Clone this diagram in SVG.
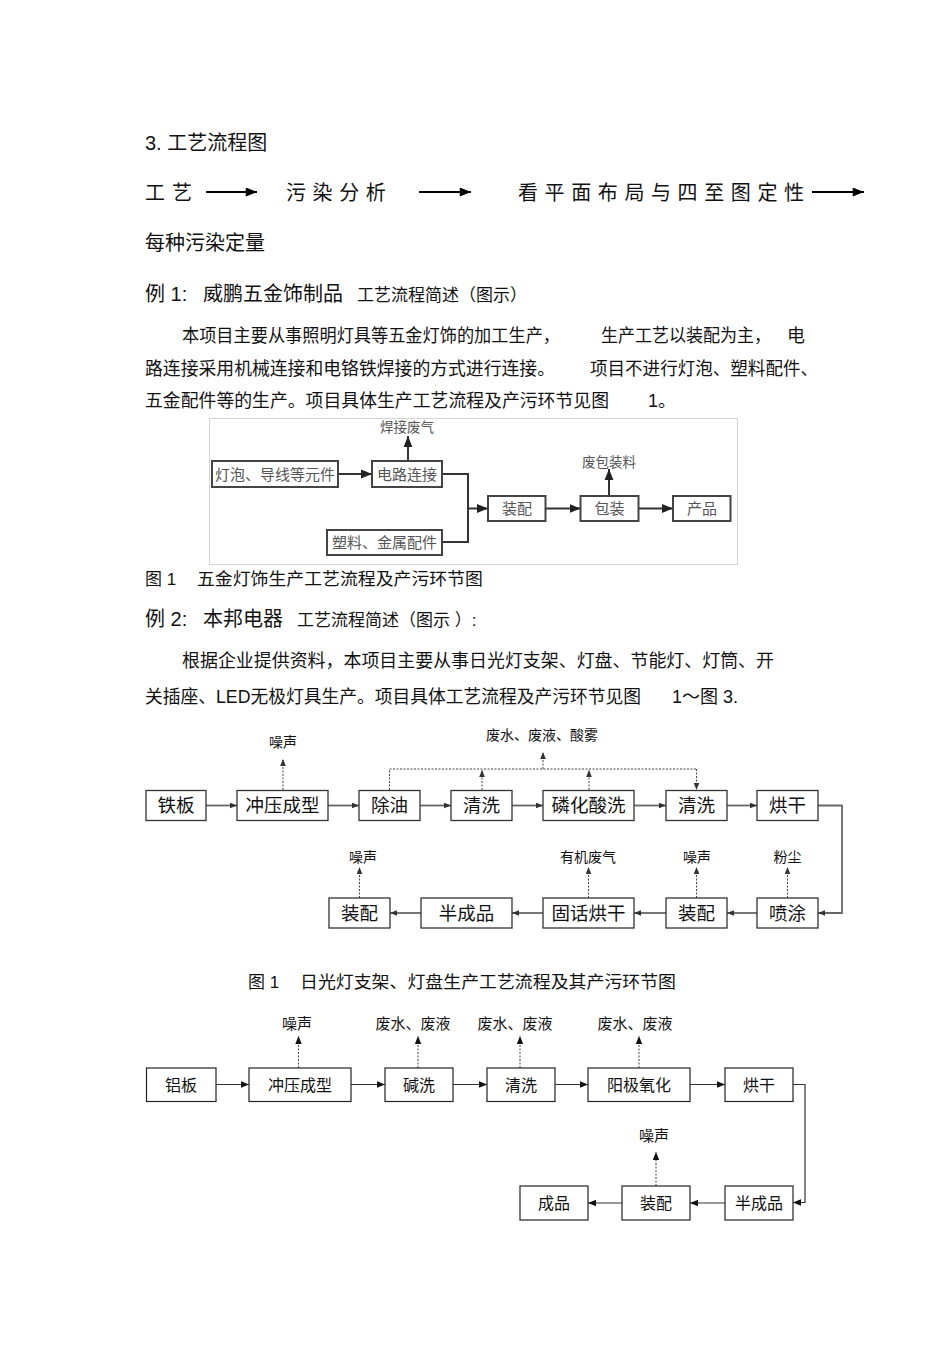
<svg xmlns="http://www.w3.org/2000/svg" width="950" height="1345" viewBox="0 0 950 1345">
<defs>
<marker id="ahHead" viewBox="0 0 10 8" refX="10" refY="4" markerWidth="12" markerHeight="9" markerUnits="userSpaceOnUse" orient="auto"><path d="M0,0 L10,4 L0,8 z" fill="#000"/></marker>
<marker id="ahBold" viewBox="0 0 10 8" refX="10" refY="4" markerWidth="11" markerHeight="10" markerUnits="userSpaceOnUse" orient="auto"><path d="M0,0 L10,4 L0,8 z" fill="#222"/></marker>
<marker id="ahGray" viewBox="0 0 10 8" refX="10" refY="4" markerWidth="7" markerHeight="6" markerUnits="userSpaceOnUse" orient="auto"><path d="M0,0 L10,4 L0,8 z" fill="#333"/></marker>
<marker id="ahDark" viewBox="0 0 10 8" refX="10" refY="4" markerWidth="8" markerHeight="7" markerUnits="userSpaceOnUse" orient="auto"><path d="M0,0 L10,4 L0,8 z" fill="#111"/></marker>
</defs>
<style>
text{font-family:"Liberation Sans","Noto Sans CJK SC",sans-serif;fill:#111}
.h{font-size:20px}
.p{font-size:18px}
.s{font-size:17px}
.f1{font-size:15px;fill:#555;text-anchor:middle}
.f1l{font-size:13.5px;fill:#555;text-anchor:middle}
.f2{font-size:18.5px;text-anchor:middle;font-family:"Noto Sans CJK SC",sans-serif}
.f2l{font-size:14px;text-anchor:middle;font-family:"Noto Sans CJK SC",sans-serif}
.f3{font-size:16px;text-anchor:middle;font-family:"Noto Sans CJK SC",sans-serif}
.f3l{font-size:15px;text-anchor:middle;font-family:"Noto Sans CJK SC",sans-serif}
.b1{fill:#fff;stroke:#444;stroke-width:2}
.b2{fill:#fff;stroke:#333;stroke-width:1.3}
.b3{fill:#fff;stroke:#222;stroke-width:1.2}
.c1{fill:none;stroke:#333;stroke-width:2}
.c2{fill:none;stroke:#666;stroke-width:1.8}
.c3{fill:none;stroke:#333;stroke-width:1.2}
.d{fill:none;stroke:#444;stroke-width:1;stroke-dasharray:2,1.5}
</style>

<g id="header">
<text class="h" x="145" y="150">3.  工艺流程图</text>
<text class="h" x="145" y="200">工</text>
<text class="h" x="172" y="200">艺</text>
<text class="h" x="286" y="200" letter-spacing="6.6">污染分析</text>
<text class="h" x="518" y="200" letter-spacing="6.6">看平面布局与四至图定性</text>
<line x1="206" y1="192" x2="257" y2="192" stroke="#000" stroke-width="1.8" marker-end="url(#ahHead)"/>
<line x1="419" y1="192" x2="471" y2="192" stroke="#000" stroke-width="1.8" marker-end="url(#ahHead)"/>
<line x1="812" y1="192" x2="864" y2="192" stroke="#000" stroke-width="1.8" marker-end="url(#ahHead)"/>
<text class="h" x="145" y="250">每种污染定量</text>
</g>

<g id="example1-text">
<text class="h" x="145" y="301">例 1:</text>
<text class="h" x="203" y="301">威鹏五金饰制品</text>
<text class="s" x="357" y="301">工艺流程简述（图示）</text>
<text class="p" x="182" y="342" textLength="378" lengthAdjust="spacingAndGlyphs">本项目主要从事照明灯具等五金灯饰的加工生产，</text>
<text class="p" x="601" y="342" textLength="170" lengthAdjust="spacingAndGlyphs">生产工艺以装配为主，</text>
<text class="p" x="787" y="342">电</text>
<text class="p" x="145" y="375" textLength="410" lengthAdjust="spacingAndGlyphs">路连接采用机械连接和电铬铁焊接的方式进行连接。</text>
<text class="p" x="590" y="375" textLength="228" lengthAdjust="spacingAndGlyphs">项目不进行灯泡、塑料配件、</text>
<text class="p" x="145" y="407" textLength="464" lengthAdjust="spacingAndGlyphs">五金配件等的生产。项目具体生产工艺流程及产污环节见图</text>
<text class="p" x="648" y="407">1。</text>
</g>

<g id="figure1">
<rect x="209.5" y="418.5" width="528" height="146" fill="#fff" stroke="#d4d4d4" stroke-width="1"/>
<g id="connectors1">
<line class="c1" x1="338" y1="474" x2="372" y2="474" marker-end="url(#ahBold)"/>
<path class="c1" d="M442,474 H468 V542 H442"/>
<line class="c1" x1="468" y1="508.5" x2="488" y2="508.5" marker-end="url(#ahBold)"/>
<line class="c1" x1="545.5" y1="508.5" x2="580.5" y2="508.5" marker-end="url(#ahBold)"/>
<line class="c1" x1="638.5" y1="508.5" x2="673" y2="508.5" marker-end="url(#ahBold)"/>
<line class="c1" x1="408" y1="461" x2="408" y2="436" marker-end="url(#ahBold)"/>
<line class="c1" x1="609" y1="496" x2="609" y2="469" marker-end="url(#ahBold)"/>
</g>
<g id="n1-parts"><rect class="b1" x="212" y="461" width="126" height="26"/><text class="f1" x="275" y="479.5">灯泡、导线等元件</text></g>
<g id="n1-circuit"><rect class="b1" x="372" y="461" width="70" height="26"/><text class="f1" x="407" y="479.5">电路连接</text></g>
<g id="n1-plastic"><rect class="b1" x="327" y="530" width="115" height="25"/><text class="f1" x="384.5" y="548">塑料、金属配件</text></g>
<g id="n1-assemble"><rect class="b1" x="488" y="496" width="57.5" height="25"/><text class="f1" x="517" y="514">装配</text></g>
<g id="n1-pack"><rect class="b1" x="580.5" y="496" width="58" height="25"/><text class="f1" x="609.5" y="514">包装</text></g>
<g id="n1-product"><rect class="b1" x="673" y="496" width="57.5" height="25"/><text class="f1" x="702" y="514">产品</text></g>
<g id="l1-weld"><text class="f1l" x="407" y="432">焊接废气</text></g>
<g id="l1-waste"><text class="f1l" x="609" y="467">废包装料</text></g>
</g>

<g id="example2-text">
<text class="s" x="145" y="584.5">图 1</text>
<text class="s" x="197" y="584.5" textLength="286" lengthAdjust="spacingAndGlyphs">五金灯饰生产工艺流程及产污环节图</text>
<text class="h" x="145" y="625.5">例 2:</text>
<text class="h" x="203" y="625.5">本邦电器</text>
<text class="s" x="297" y="625.5">工艺流程简述（图示 ）:</text>
<text class="p" x="182" y="666.5" textLength="592" lengthAdjust="spacingAndGlyphs">根据企业提供资料，本项目主要从事日光灯支架、灯盘、节能灯、灯筒、开</text>
<text class="p" x="145" y="703" textLength="496" lengthAdjust="spacingAndGlyphs">关插座、LED无极灯具生产。项目具体工艺流程及产污环节见图</text>
<text class="p" x="672" y="703">1～图 3.</text>
</g>

<g id="figure2">
<g id="connectors2">
<line class="c2" x1="206" y1="805.5" x2="237" y2="805.5" marker-end="url(#ahGray)"/>
<line class="c2" x1="328" y1="805.5" x2="359" y2="805.5" marker-end="url(#ahGray)"/>
<line class="c2" x1="420" y1="805.5" x2="451" y2="805.5" marker-end="url(#ahGray)"/>
<line class="c2" x1="512" y1="805.5" x2="543" y2="805.5" marker-end="url(#ahGray)"/>
<line class="c2" x1="634" y1="805.5" x2="666" y2="805.5" marker-end="url(#ahGray)"/>
<line class="c2" x1="727" y1="805.5" x2="757" y2="805.5" marker-end="url(#ahGray)"/>
<path class="c2" d="M818,805.5 H842 V913 H818" marker-end="url(#ahGray)"/>
<line class="c2" x1="757" y1="913" x2="727" y2="913" marker-end="url(#ahGray)"/>
<line class="c2" x1="666" y1="913" x2="634" y2="913" marker-end="url(#ahGray)"/>
<line class="c2" x1="543" y1="913" x2="512" y2="913" marker-end="url(#ahGray)"/>
<line class="c2" x1="421" y1="913" x2="390" y2="913" marker-end="url(#ahGray)"/>
<line class="d" x1="283" y1="790" x2="283" y2="759" marker-end="url(#ahGray)"/>
<path class="d" d="M389.5,790 V769 H696.5"/>
<line class="d" x1="482" y1="790" x2="482" y2="770" marker-end="url(#ahGray)"/>
<line class="d" x1="589" y1="790" x2="589" y2="770" marker-end="url(#ahGray)"/>
<line class="d" x1="696.5" y1="769" x2="696.5" y2="790" marker-end="url(#ahGray)"/>
<line class="d" x1="543" y1="769" x2="543" y2="752" marker-end="url(#ahGray)"/>
<line class="d" x1="359.5" y1="898" x2="359.5" y2="867" marker-end="url(#ahGray)"/>
<line class="d" x1="588.5" y1="898" x2="588.5" y2="867" marker-end="url(#ahGray)"/>
<line class="d" x1="696.5" y1="898" x2="696.5" y2="867" marker-end="url(#ahGray)"/>
<line class="d" x1="787.5" y1="898" x2="787.5" y2="867" marker-end="url(#ahGray)"/>
</g>
<g id="n2-iron"><rect class="b2" x="146" y="790.5" width="60" height="30"/><text class="f2" x="176" y="812">铁板</text></g>
<g id="n2-press"><rect class="b2" x="237" y="790.5" width="91" height="30"/><text class="f2" x="282.5" y="812">冲压成型</text></g>
<g id="n2-degrease"><rect class="b2" x="359" y="790.5" width="61" height="30"/><text class="f2" x="389.5" y="812">除油</text></g>
<g id="n2-wash1"><rect class="b2" x="451" y="790.5" width="61" height="30"/><text class="f2" x="481.5" y="812">清洗</text></g>
<g id="n2-phos"><rect class="b2" x="543" y="790.5" width="91" height="30"/><text class="f2" x="588.5" y="812">磷化酸洗</text></g>
<g id="n2-wash2"><rect class="b2" x="666" y="790.5" width="61" height="30"/><text class="f2" x="696.5" y="812">清洗</text></g>
<g id="n2-dry"><rect class="b2" x="757" y="790.5" width="61" height="30"/><text class="f2" x="787.5" y="812">烘干</text></g>
<g id="n2-spray"><rect class="b2" x="757" y="898" width="61" height="30"/><text class="f2" x="787.5" y="919.5">喷涂</text></g>
<g id="n2-assem1"><rect class="b2" x="666" y="898" width="61" height="30"/><text class="f2" x="696.5" y="919.5">装配</text></g>
<g id="n2-cure"><rect class="b2" x="543" y="898" width="91" height="30"/><text class="f2" x="588.5" y="919.5">固话烘干</text></g>
<g id="n2-semi"><rect class="b2" x="421" y="898" width="91" height="30"/><text class="f2" x="466.5" y="919.5">半成品</text></g>
<g id="n2-assem2"><rect class="b2" x="329" y="898" width="61" height="30"/><text class="f2" x="359.5" y="919.5">装配</text></g>
<g id="l2-noise1"><text class="f2l" x="283" y="747">噪声</text></g>
<g id="l2-water"><text class="f2l" x="542" y="740">废水、废液、酸雾</text></g>
<g id="l2-noise2"><text class="f2l" x="363" y="862">噪声</text></g>
<g id="l2-organic"><text class="f2l" x="588" y="862">有机废气</text></g>
<g id="l2-noise3"><text class="f2l" x="697" y="862">噪声</text></g>
<g id="l2-dust"><text class="f2l" x="787.5" y="862">粉尘</text></g>
</g>

<g id="caption2">
<text class="s" x="248" y="988">图 1</text>
<text class="s" x="300" y="988" textLength="376" lengthAdjust="spacingAndGlyphs">日光灯支架、灯盘生产工艺流程及其产污环节图</text>
</g>

<g id="figure3">
<g id="connectors3">
<line class="c3" x1="216" y1="1084.5" x2="249" y2="1084.5" marker-end="url(#ahDark)"/>
<line class="c3" x1="351" y1="1084.5" x2="385" y2="1084.5" marker-end="url(#ahDark)"/>
<line class="c3" x1="453" y1="1084.5" x2="487" y2="1084.5" marker-end="url(#ahDark)"/>
<line class="c3" x1="555" y1="1084.5" x2="588" y2="1084.5" marker-end="url(#ahDark)"/>
<line class="c3" x1="690" y1="1084.5" x2="725" y2="1084.5" marker-end="url(#ahDark)"/>
<path class="c3" d="M793,1084.5 H805 V1202.5 H793" marker-end="url(#ahDark)"/>
<line class="c3" x1="725" y1="1203" x2="690" y2="1203" marker-end="url(#ahDark)"/>
<line class="c3" x1="622" y1="1203" x2="588" y2="1203" marker-end="url(#ahDark)"/>
<line class="d" x1="298.5" y1="1068" x2="298.5" y2="1036" marker-end="url(#ahDark)"/>
<line class="d" x1="418" y1="1068" x2="418" y2="1036" marker-end="url(#ahDark)"/>
<line class="d" x1="520" y1="1068" x2="520" y2="1036" marker-end="url(#ahDark)"/>
<line class="d" x1="639" y1="1068" x2="639" y2="1036" marker-end="url(#ahDark)"/>
<line class="d" x1="656" y1="1186" x2="656" y2="1152" marker-end="url(#ahDark)"/>
</g>
<g id="n3-al"><rect class="b3" x="146.5" y="1068" width="69.5" height="33.5"/><text class="f3" x="181" y="1090.5">铝板</text></g>
<g id="n3-press"><rect class="b3" x="249" y="1068" width="102" height="33.5"/><text class="f3" x="300" y="1090.5">冲压成型</text></g>
<g id="n3-alkali"><rect class="b3" x="385" y="1068" width="68" height="33.5"/><text class="f3" x="419" y="1090.5">碱洗</text></g>
<g id="n3-wash"><rect class="b3" x="487" y="1068" width="68" height="33.5"/><text class="f3" x="521" y="1090.5">清洗</text></g>
<g id="n3-anode"><rect class="b3" x="588" y="1068" width="102" height="33.5"/><text class="f3" x="639" y="1090.5">阳极氧化</text></g>
<g id="n3-dry"><rect class="b3" x="725" y="1068" width="68" height="33.5"/><text class="f3" x="759" y="1090.5">烘干</text></g>
<g id="n3-semi"><rect class="b3" x="725" y="1186" width="68" height="34"/><text class="f3" x="759" y="1209">半成品</text></g>
<g id="n3-assem"><rect class="b3" x="622" y="1186" width="68" height="34"/><text class="f3" x="656" y="1209">装配</text></g>
<g id="n3-final"><rect class="b3" x="520" y="1186" width="68" height="34"/><text class="f3" x="554" y="1209">成品</text></g>
<g id="l3-noise1"><text class="f3l" x="297" y="1028.5">噪声</text></g>
<g id="l3-water1"><text class="f3l" x="413" y="1028.5">废水、废液</text></g>
<g id="l3-water2"><text class="f3l" x="515" y="1028.5">废水、废液</text></g>
<g id="l3-water3"><text class="f3l" x="635" y="1028.5">废水、废液</text></g>
<g id="l3-noise2"><text class="f3l" x="654" y="1140.5">噪声</text></g>
</g>
</svg>
